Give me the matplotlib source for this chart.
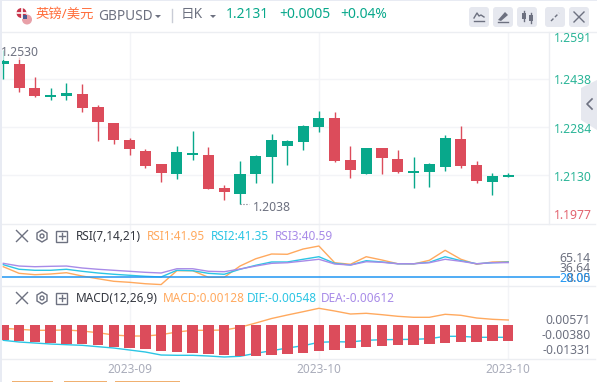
import matplotlib
matplotlib.use('Agg')
import matplotlib.pyplot as plt
from matplotlib.patches import Rectangle, FancyBboxPatch, Circle, Polygon

plt.rcParams['font.family'] = ['Noto Sans', 'Noto Sans CJK SC', 'DejaVu Sans']

# daily candles
opens = [1.2488, 1.2486, 1.2409, 1.2380, 1.2384, 1.2390, 1.2348, 1.2297, 1.2242, 1.2207, 1.2165,
         1.2133, 1.2194, 1.2194, 1.2088, 1.2069, 1.2133, 1.2188, 1.2223, 1.2236, 1.2284,
         1.2313, 1.2178, 1.2133, 1.2217, 1.2181, 1.2136, 1.2140, 1.2156, 1.2246, 1.2162, 1.2108, 1.2126]
closes = [1.2496, 1.2409, 1.2384, 1.2386, 1.2393, 1.2345, 1.2300, 1.2242, 1.2213, 1.2159, 1.2136,
          1.2204, 1.2201, 1.2085, 1.2075, 1.2133, 1.2191, 1.2242, 1.2239, 1.2287, 1.2313,
          1.2175, 1.2146, 1.2217, 1.2185, 1.2140, 1.2143, 1.2165, 1.2249, 1.2159, 1.2111, 1.2127, 1.2131]
highs = [1.2530, 1.2509, 1.2445, 1.2409, 1.2425, 1.2422, 1.2355, 1.2297, 1.2249, 1.2213, 1.2165,
         1.2223, 1.2271, 1.2220, 1.2098, 1.2175, 1.2194, 1.2262, 1.2242, 1.2291, 1.2335,
         1.2332, 1.2223, 1.2217, 1.2217, 1.2210, 1.2188, 1.2169, 1.2258, 1.2287, 1.2175, 1.2136, 1.2136]
lows = [1.2438, 1.2396, 1.2380, 1.2371, 1.2371, 1.2332, 1.2239, 1.2230, 1.2194, 1.2152, 1.2108,
        1.2117, 1.2178, 1.2085, 1.2050, 1.2038, 1.2104, 1.2104, 1.2162, 1.2210, 1.2268,
        1.2172, 1.2120, 1.2133, 1.2133, 1.2136, 1.2088, 1.2091, 1.2143, 1.2152, 1.2104, 1.2066, 1.2124]

rsi1 = [34.5, 24.7, 22.7, 23.7, 25.6, 20.7, 16.7, 12.9, 11.4, 9.3, 8.05, 28.6, 28.6, 18.8, 18.8, 35.5, 46.3,
        53.3, 52.9, 60.7, 65.14, 40.4, 38.1, 49.3, 44.4, 38.9, 38.5, 44.0, 58.8, 45.5, 38.1, 41.5, 41.95]
rsi2 = [37.5, 30.7, 29.2, 29.2, 30.7, 27.7, 25.2, 23.3, 21.8, 20.3, 19.3, 29.2, 28.6, 24.7, 23.3, 30.7, 36.6,
        41.5, 41.5, 45.5, 49.3, 39.5, 37.0, 43.4, 41.5, 38.9, 38.9, 41.0, 49.3, 43.4, 38.9, 40.4, 41.35]
rsi3 = [39.5, 35.5, 34.5, 35.1, 35.5, 32.6, 30.7, 29.2, 27.7, 26.2, 25.2, 31.5, 31.5, 27.7, 27.1, 31.1, 35.5,
        39.5, 40.4, 42.9, 45.5, 38.5, 37.0, 41.9, 41.0, 38.9, 38.9, 40.4, 45.5, 42.5, 38.9, 40.4, 40.59]

macd_line = [0.00055, -0.00007, -0.00070, -0.00070, -0.00051, -0.00113, -0.00219, -0.00362, -0.00424, -0.00424,
             -0.00343, -0.00175, -0.00070, -0.00070, -0.00051, 0.00117, 0.00384, 0.00664, 0.00882, 0.01087, 0.01299,
             0.01131, 0.00944, 0.00988, 0.00901, 0.00801, 0.00739, 0.00739, 0.00926, 0.00863, 0.00695, 0.00615, 0.00571]
dif_line = [-0.00692, -0.00797, -0.00860, -0.00922, -0.00965, -0.01003, -0.01090, -0.01171, -0.01295, -0.01419,
            -0.01606, -0.01625, -0.01625, -0.01668, -0.01730, -0.01687, -0.01500, -0.01339, -0.01171, -0.01028, -0.00816,
            -0.00779, -0.00797, -0.00692, -0.00654, -0.00642, -0.00629, -0.00592, -0.00443, -0.00443, -0.00505, -0.00505, -0.00505]
macd_hist = [-0.00952, -0.00995, -0.01057, -0.01120, -0.01182, -0.01182, -0.01244, -0.01368, -0.01431, -0.01493,
             -0.01617, -0.01679, -0.01742, -0.01773, -0.01847, -0.01897, -0.01910, -0.01847, -0.01785, -0.01723, -0.01599,
             -0.01536, -0.01412, -0.01350, -0.01288, -0.01244, -0.01244, -0.01182, -0.01120, -0.01057, -0.01057, -0.00995, -0.00995]
hist_base = 0.00260

date_ticks = [8, 20, 32]
date_labels = ['2023-09', '2023-10', '2023-10']
price_ticks = [1.2438, 1.2284, 1.2130]

GREEN = '#08a88b'
RED = '#dc4c5b'
ORANGE = '#ffa95e'
CYAN = '#2cc5e4'
PURPLE = '#a88be8'
BLUE = '#2196f3'
GRID = '#f3f4f7'
LINE = '#eceef2'
GREY = '#6d7180'
FILL = '#e6e8ef'

W, H = 597, 382
fig = plt.figure(figsize=(W / 100, H / 100), dpi=100)


def panel(left, top, right, bottom):
    ax = fig.add_axes([left / W, 1 - bottom / H, (right - left) / W, (bottom - top) / H])
    # same candle spacing in all three panels
    ax.set_xlim((left - 3.3) / 15.78, (right - 3.3) / 15.78)
    for s in ax.spines.values():
        s.set_visible(False)
    ax.tick_params(length=0, labelleft=False, labelbottom=False)
    ax.set_xticks(date_ticks)
    ax.set_yticks([])
    ax.grid(axis='x', color=GRID, lw=1)
    ax.set_axisbelow(True)
    return ax


# price panel
ax_price = panel(0, 32, 548.7, 224.3)
ax_price.set_ylim(1.1973, 1.2589)
ax_price.set_yticks(price_ticks)
ax_price.grid(axis='y', color=GRID, lw=1)
for i in range(len(opens)):
    color = GREEN if closes[i] >= opens[i] else RED
    ax_price.vlines(i, lows[i], highs[i], color=color, lw=1.0, zorder=2)
    ax_price.bar(i, abs(closes[i] - opens[i]), bottom=min(opens[i], closes[i]), width=0.7, color=color, zorder=3)
ax_price.text(-0.15, 1.2530 - 0.0007, '1.2530', color=GREY, fontsize=8.8, va='center', zorder=5,
              bbox=dict(fc='white', ec='none', pad=0.5, alpha=0.7))
ax_price.plot([15, 15.6], [1.2038, 1.2038], color=GREY, lw=0.8, ls=':', zorder=4)
ax_price.text(15.8, 1.2026, '1.2038', color=GREY, fontsize=8.8, va='center', zorder=5)

# RSI panel
ax_rsi = panel(0, 224.3, W, 286)
ax_rsi.set_ylim(5.94, 97.3)
ax_rsi.plot(range(33), rsi1, color=ORANGE, lw=1)
ax_rsi.plot(range(33), rsi2, color=CYAN, lw=1)
ax_rsi.plot(range(33), rsi3, color=PURPLE, lw=1)
ax_rsi.hlines(20, -1, 35.3, color=BLUE, lw=1.1)

# MACD panel
ax_macd = panel(0, 286, W, 359.3)
ax_macd.set_ylim(-0.01873, 0.02686)
ax_macd.plot(range(33), macd_line, color=ORANGE, lw=1, zorder=2)
ax_macd.plot(range(33), dif_line, color=CYAN, lw=1, zorder=2)
ax_macd.bar(range(33), macd_hist, bottom=hist_base, width=0.66, color=RED, zorder=3)
ax_macd.set_xticklabels(date_labels, color='#a9acba', fontsize=8.5)
ax_macd.tick_params(labelbottom=True, pad=2.5)

# everything around the plots, in picture pixels
ui = fig.add_axes([0, 0, 1, 1], zorder=10)
ui.set_xlim(0, W)
ui.set_ylim(H, 0)
ui.axis('off')


def label(x, y, s, color=GREY, size=8.8, ha='left', **kw):
    ui.text(x, y, s, color=color, fontsize=size, ha=ha, va='center', **kw)


def cross(x, y, r, color=GREY):
    ui.plot([x - r, x + r], [y - r, y + r], color=color, lw=1)
    ui.plot([x - r, x + r], [y + r, y - r], color=color, lw=1)


def panel_tools(y):
    cross(22, y, 5.5)
    ui.add_patch(Polygon([(42, y - 6), (47, y - 3), (47, y + 3), (42, y + 6), (37, y + 3), (37, y - 3)],
                         fill=False, ec=GREY, lw=1))
    ui.add_patch(Circle((42, y), 2, fill=False, ec=GREY, lw=1))
    ui.add_patch(Rectangle((56, y - 5.5), 11, 11, fill=False, ec=GREY, lw=1))
    ui.plot([58.5, 64.5], [y, y], color=GREY, lw=1)
    ui.plot([61.5, 61.5], [y - 3, y + 3], color=GREY, lw=1)


# page frame and separators
ui.add_patch(Rectangle((0, 0), 2, H, color='#e8ebf3', lw=0))
ui.add_patch(Rectangle((0, 0), W, 1, color='#e8ebf3', lw=0))
ui.plot([2, W], [32, 32], color=LINE, lw=1)
ui.plot([2, 595], [224.3, 224.3], color=LINE, lw=1)
ui.plot([2, 595], [286, 286], color=LINE, lw=1)
ui.plot([2, 595], [359.3, 359.3], color=LINE, lw=1)
ui.plot([548.7, 548.7], [32, 224.3], color=LINE, lw=1)

# header
ui.add_patch(Circle((21.5, 13), 5, color='#c8344a', lw=0))
ui.plot([17, 26], [13, 13], color='white', lw=1.2)
ui.plot([21.5, 21.5], [8, 18], color='white', lw=1.2)
ui.add_patch(Circle((27, 19.5), 5, color='#e8a0a8', lw=0))
ui.add_patch(Rectangle((23, 15), 4, 4, color='#4a5a90', lw=0))
label(36, 14.5, '英镑/美元', color='#ff6f3d', size=9.6)
label(98, 16, 'GBPUSD', size=9.8)
ui.add_patch(Polygon([(155, 15), (161, 15), (158, 18)], color=GREY, lw=0))
ui.plot([171.5, 171.5], [9, 22], color='#c9ccd6', lw=1)
label(181, 14.5, '日K', size=9.8)
ui.add_patch(Polygon([(210, 15), (216, 15), (213, 18)], color=GREY, lw=0))
label(226, 14.5, '1.2131', color=GREEN, size=10, fontweight='bold')
label(279, 14.5, '+0.0005', color=GREEN, size=10, fontweight='bold')
label(340, 14.5, '+0.04%', color=GREEN, size=10, fontweight='bold')

# header buttons
for x0 in [469, 493, 517, 545, 569]:
    ui.add_patch(FancyBboxPatch((x0 + 2, 9), 16, 16, boxstyle='round,pad=2,rounding_size=3', color=FILL, lw=0))
ui.plot([474, 477, 479, 481, 484], [18, 13, 16, 15, 17], color=GREY, lw=1)
ui.plot([474, 484], [21, 21], color=GREY, lw=1)
ui.add_patch(Polygon([(498, 20), (505, 12), (508, 15), (501, 21)], color=GREY, lw=0))
ui.plot([498, 508], [22, 22], color=GREY, lw=1)
ui.add_patch(Rectangle((522, 13), 4, 6, color=GREY, lw=0))
ui.plot([524, 524], [11, 21], color=GREY, lw=1)
ui.add_patch(Rectangle((529, 15), 4, 6, color=GREY, lw=0))
ui.plot([531, 531], [13, 23], color=GREY, lw=1)
ui.plot([551, 559], [21, 13], color=GREY, lw=1, ls=(0, (2.5, 1.5)))
cross(579, 17, 5)

# side tab
ui.add_patch(Polygon([(581, 88), (597, 80), (597, 130), (581, 120)], color=FILL, lw=0))
ui.plot([592, 587, 592], [99, 104, 109], color=GREY, lw=1.2)

# price scale
label(554, 39, '1.2591', color='#2bb598')
label(554, 80.5, '1.2438', color='#2bb598')
label(554, 129.5, '1.2284', color='#2bb598')
label(554, 177.5, '1.2130', color='#2bb598')
label(554, 215.5, '1.1977', color='#e2636f')

# indicator titles
panel_tools(236)
label(76, 236, 'RSI(7,14,21)', color='#33363f', size=8.5)
label(147, 236, 'RSI1:41.95', color=ORANGE, size=8.5)
label(211, 236, 'RSI2:41.35', color=CYAN, size=8.5)
label(275, 236, 'RSI3:40.59', color=PURPLE, size=8.5)
panel_tools(298)
label(76, 298, 'MACD(12,26,9)', color='#33363f', size=8.5)
label(163, 298, 'MACD:0.00128', color=ORANGE, size=8.5)
label(247, 298, 'DIF:-0.00548', color=CYAN, size=8.5)
label(321, 298, 'DEA:-0.00612', color=PURPLE, size=8.5)

# indicator scales
label(591, 258, '65.14', ha='right')
label(591, 268, '36.64', ha='right')
label(591, 278, '8.05', ha='right')
label(591, 278, '20.00', color=BLUE, ha='right')
label(591, 320, '0.00571', ha='right')
label(591, 335.5, '-0.00380', ha='right')
label(591, 351, '-0.01331', ha='right')

# edge of the next page block
for x0, x1 in [(12, 53), (64, 107), (115, 180)]:
    ui.add_patch(Rectangle((x0, 381), x1 - x0, 1, color='#f0b070', lw=0))

fig.savefig('out.png', dpi=100)
